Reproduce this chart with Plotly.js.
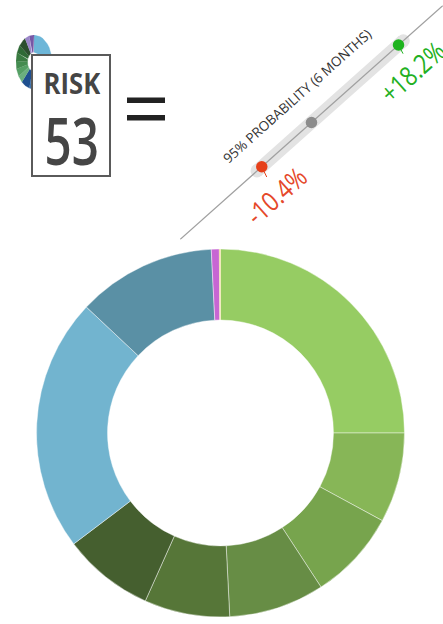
<!DOCTYPE html>
<html>
<head>
<meta charset="utf-8">
<script src="https://cdn.plot.ly/plotly-3.0.1.min.js"></script>
<style>html,body{margin:0;padding:0;background:#fff;}#chart{width:443px;height:624px;}</style>
</head>
<body>
<div id="chart"></div>
<script>
// ---- data ----
var sliceLabels = ["A", "B", "C", "D", "E", "F", "G", "H", "I", "J"];
var sliceValues = [25.0, 7.9, 7.9, 8.4, 7.5, 8.0, 22.3, 12.2, 0.7, 0.1];
var sliceColors = ["#96CC63", "#87B657", "#77A44D", "#678D45", "#567638", "#455F2F", "#72B4CF", "#5A90A5", "#C766D3", "#E8C040"];

var iconValues = [115, 80, 27, 16, 17, 17, 18, 18, 22, 15, 15];
var iconColors = ["#6DB6D8", "#3F74AE", "#1E4F8F", "#6AB07E", "#55A065", "#448C50", "#3A7C42", "#2F6A36", "#2B4F2E", "#9A86C8", "#7657A6"];

var riskWord = "RISK";
var riskScore = "53";
var probLabel = "95% PROBABILITY (6 MONTHS)";
var rangeLow = -10.4;
var rangeMid = 0;
var rangeHigh = 18.2;
var lowText = "-10.4%";
var highText = "+18.2%";
var axisSpan = [-27.5, 27.5];

// ---- helpers ----
var W = 443, H = 624;
function px(x) { return x / W; }
function py(y) { return 1 - y / H; }

// icon ring segments (elliptical via axis scaling)
var iconTraces = [];
var total = iconValues.reduce(function (a, b) { return a + b; }, 0);
var acc = 0;
var rIn = 0.36;
for (var i = 0; i < iconValues.length; i++) {
  var a0 = acc / total * 2 * Math.PI;
  acc += iconValues[i];
  var a1 = acc / total * 2 * Math.PI;
  var xs = [], ys = [];
  var n = 12;
  for (var k = 0; k <= n; k++) { var t = a0 + (a1 - a0) * k / n; xs.push(Math.sin(t)); ys.push(Math.cos(t)); }
  for (var k2 = n; k2 >= 0; k2--) { var t2 = a0 + (a1 - a0) * k2 / n; xs.push(rIn * Math.sin(t2)); ys.push(rIn * Math.cos(t2)); }
  iconTraces.push({
    type: "scatter", mode: "lines", x: xs, y: ys, xaxis: "x2", yaxis: "y2",
    fill: "toself", fillcolor: iconColors[i], line: { width: 0.3, color: iconColors[i] },
    hoverinfo: "skip"
  });
}

var donut = {
  type: "pie", labels: sliceLabels, values: sliceValues, sort: false, direction: "clockwise", rotation: 0,
  hole: 0.614, textinfo: "none", hoverinfo: "label+percent",
  marker: { colors: sliceColors, line: { color: "rgba(255,255,255,0.55)", width: 0.8 } },
  domain: { x: [px(36.5), px(404.5)], y: [py(617), py(249)] }
};

var pad = 1.0;
var band = {
  type: "scatter", mode: "lines+markers",
  x: [rangeLow - pad, rangeHigh + pad], y: [rangeLow - pad, rangeHigh + pad],
  line: { color: "#E3E3E3", width: 13 }, marker: { size: 13, color: "#E3E3E3" },
  hoverinfo: "skip", cliponaxis: false
};
var diag = {
  type: "scatter", mode: "lines", x: axisSpan, y: axisSpan,
  line: { color: "#A0A0A0", width: 1.2 }, hoverinfo: "skip", cliponaxis: false
};
var dots = {
  type: "scatter", mode: "markers",
  x: [rangeLow, rangeMid, rangeHigh], y: [rangeLow, rangeMid, rangeHigh],
  marker: { size: 11.5, color: ["#E6401A", "#8C8C8C", "#1DB31D"] },
  hoverinfo: "x", cliponaxis: false
};

var data = iconTraces.concat([donut, band, diag, dots]);

var ang = -41.7;
var sans = "Open Sans, sans-serif";
var layout = {
  width: W, height: H, margin: { l: 0, r: 0, t: 0, b: 0 },
  paper_bgcolor: "#fff", plot_bgcolor: "rgba(0,0,0,0)", showlegend: false,
  xaxis: { domain: [px(180), 1], range: axisSpan, visible: false, fixedrange: true },
  yaxis: { domain: [py(239.5), py(5.4)], range: axisSpan, visible: false, fixedrange: true },
  xaxis2: { domain: [px(16), px(52)], range: [-1, 1], visible: false, fixedrange: true },
  yaxis2: { domain: [py(89), py(35)], range: [-1, 1], visible: false, fixedrange: true },
  shapes: [
    { type: "rect", xref: "paper", yref: "paper", x0: px(32), x1: px(110), y0: py(176), y1: py(55),
      fillcolor: "#FFFFFF", line: { color: "#5A5A5A", width: 2 }, layer: "above" },
    { type: "rect", xref: "paper", yref: "paper", x0: px(127), x1: px(165), y0: py(103), y1: py(97.5),
      fillcolor: "#222222", line: { width: 0 }, layer: "above" },
    { type: "rect", xref: "paper", yref: "paper", x0: px(127), x1: px(165), y0: py(120.5), y1: py(115),
      fillcolor: "#222222", line: { width: 0 }, layer: "above" }
  ],
  annotations: [
    { xref: "paper", yref: "paper", x: px(72), y: py(83), text: riskWord, showarrow: false,
      xanchor: "center", yanchor: "middle", height: 30, valign: "middle",
      font: { family: sans, size: 28, weight: 700, color: "#454545" } },
    { xref: "paper", yref: "paper", x: px(71.5), y: py(138.5), text: riskScore, showarrow: false,
      xanchor: "center", yanchor: "middle", height: 64, valign: "middle",
      font: { family: sans, size: 66, weight: 600, color: "#454545" } },
    { xref: "x", yref: "y", x: rangeMid, y: rangeMid, text: probLabel, showarrow: false,
      textangle: ang, xshift: -14, yshift: 26,
      font: { family: sans, size: 13.5, color: "#333333" } },
    { xref: "x", yref: "y", x: rangeLow, y: rangeLow, text: lowText, showarrow: true,
      ax: 14, ay: 29, arrowhead: 0, arrowwidth: 1, arrowcolor: "#E6401A", standoff: 5,
      textangle: ang,
      font: { family: sans, size: 27, color: "#E5482A" } },
    { xref: "x", yref: "y", x: rangeHigh, y: rangeHigh, text: highText, showarrow: true,
      ax: 14, ay: 27, arrowhead: 0, arrowwidth: 1, arrowcolor: "#1DB31D", standoff: 5,
      textangle: ang,
      font: { family: sans, size: 27, color: "#22B022" } }
  ]
};

// horizontal condensing of some texts (the reference uses a narrow face)
var squeeze = {};
squeeze[riskWord] = 0.92;
squeeze[riskScore] = 0.72;
squeeze[lowText] = 0.83;
squeeze[highText] = 0.83;

Plotly.newPlot("chart", data, layout, { displayModeBar: false, staticPlot: true }).then(function (gd) {
  var nodes = gd.querySelectorAll(".annotation-text");
  nodes.forEach(function (nd) {
    var s = squeeze[nd.textContent];
    if (s) {
      nd.style.transformBox = "fill-box";
      nd.style.transformOrigin = "center";
      nd.style.transform = "scaleX(" + s + ")";
    }
  });
});
</script>
</body>
</html>
